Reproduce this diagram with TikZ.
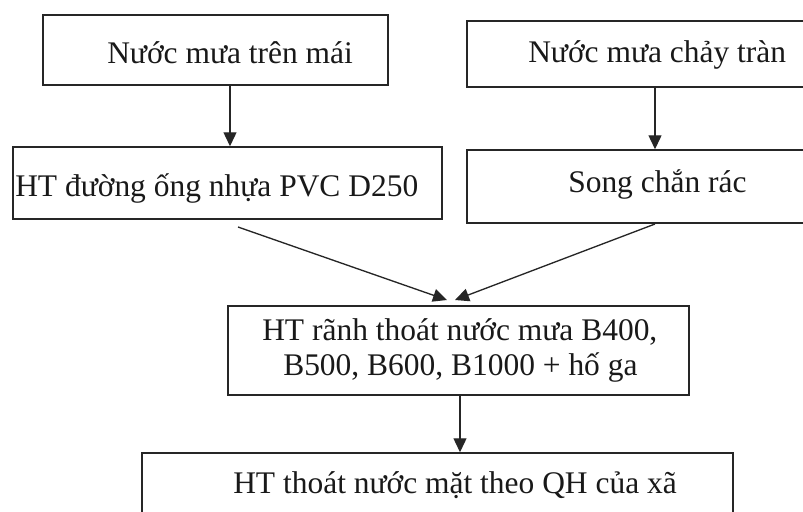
\documentclass[tikz,border=0pt]{standalone}
\usepackage{fontspec}
\setmainfont{Liberation Serif}
\usetikzlibrary{arrows.meta,fit}
\begin{document}
\begin{tikzpicture}[x=0.75pt,y=-0.75pt,
  box/.style={draw=black!85,line width=1.1pt,inner sep=0pt,rectangle},
  lbl/.style={inner sep=0pt,anchor=base west,font=\fontsize{23.6}{26.3}\selectfont,text=black!90},
  arr/.style={draw=black!85,line width=1pt,-{Triangle[length=10.5pt,width=9.75pt]}}]
\useasboundingbox (0,0) rectangle (803,511);
\clip (0,0) rectangle (803,511);
% boxes
\node[box,fit={(43,15) (388,85)}] (b1) {};
\node[box,fit={(13,147) (442,219)}] (b2) {};
\node[box,fit={(467,21) (840,87)}] (b3) {};
\node[box,fit={(467,150) (840,223)}] (b4) {};
\node[box,fit={(228,306) (689,395)}] (b5) {};
\node[box,fit={(142,453) (733,560)}] (b6) {};
% texts
\node[lbl] (t1) at (107,63) {Nước mưa trên mái};
\node[lbl] (t2) at (15,196) {HT đường ống nhựa PVC D250};
\node[lbl] (t3) at (528,62) {Nước mưa chảy tràn};
\node[lbl] (t4) at (568,192) {Song chắn rác};
\node[lbl] (t5a) at (262,340) {HT rãnh thoát nước mưa B400,};
\node[lbl] (t5b) at (283,375) {B500, B600, B1000 + hố ga};
\node[lbl] (t6) at (233,493) {HT thoát nước mặt theo QH của xã};
% connector points
\coordinate (x1) at (230,0);
\coordinate (x2) at (655,0);
\coordinate (x5) at (460,0);
\coordinate (s3) at (238,227);
\coordinate (e3) at (447,300);
\coordinate (s4) at (655,224);
\coordinate (e4) at (455,300);
% arrows
\draw[arr] (b1.south -| x1) -- (b2.north -| x1);
\draw[arr] (b3.south -| x2) -- (b4.north -| x2);
\draw[arr] (s3) -- (e3);
\draw[arr] (s4) -- (e4);
\draw[arr] (b5.south -| x5) -- (b6.north -| x5);
\end{tikzpicture}
\end{document}
